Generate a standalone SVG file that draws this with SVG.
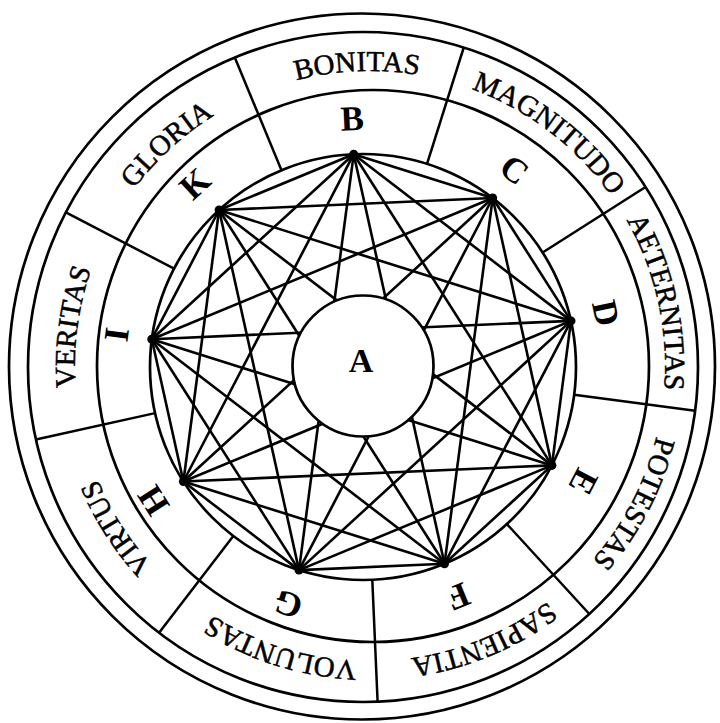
<svg xmlns="http://www.w3.org/2000/svg" xmlns:xlink="http://www.w3.org/1999/xlink" width="720" height="723" viewBox="0 0 720 723">
<style>
.ring{fill:none;stroke:#000;stroke-width:2.7}
.div{stroke:#000;stroke-width:2.5;fill:none}
.con{stroke:#000;stroke-width:2.6;fill:none}
.lab{font-family:"Liberation Serif","Times New Roman",serif;font-size:29px;fill:#000;stroke:#000;stroke-width:0.5}
.let{font-family:"Liberation Serif","Times New Roman",serif;font-size:35px;font-weight:bold;fill:#000}
.dot{fill:#000}
</style>
<defs>
<path id="pB" d="M170.70 148.50 A295 295 0 0 1 549.58 131.96"/>
<path id="pC" d="M357.13 71.28 A295 295 0 0 1 658.01 302.15"/>
<path id="pD" d="M549.58 131.96 A295 295 0 0 1 631.67 502.22"/>
<path id="pE" d="M658.01 302.15 A295 295 0 0 1 482.89 638.54"/>
<path id="pF" d="M631.67 502.22 A295 295 0 0 1 281.29 647.35"/>
<path id="pG" d="M482.89 638.54 A295 295 0 0 1 121.20 524.50"/>
<path id="pH" d="M281.29 647.35 A295 295 0 0 1 77.53 327.49"/>
<path id="pI" d="M121.20 524.50 A295 295 0 0 1 170.70 148.50"/>
<path id="pK" d="M77.53 327.49 A295 295 0 0 1 357.13 71.28"/>
</defs>
<rect width="720" height="723" fill="#fff"/>
<g id="rings">
<circle class="ring" cx="362" cy="366.5" r="353"/>
<circle class="ring" cx="363" cy="367" r="335"/>
<circle class="ring" cx="373" cy="366" r="276"/>
<circle class="ring" cx="363" cy="367" r="213"/>
</g>
<g id="dividers">
<line class="div" x1="427.05" y1="163.86" x2="463.74" y2="47.50"/>
<line class="div" x1="542.64" y1="252.56" x2="645.54" y2="187.00"/>
<line class="div" x1="574.18" y1="394.80" x2="695.13" y2="410.73"/>
<line class="div" x1="506.90" y1="524.04" x2="589.32" y2="613.99"/>
<line class="div" x1="372.29" y1="579.80" x2="377.61" y2="701.68"/>
<line class="div" x1="233.33" y1="535.98" x2="159.07" y2="632.77"/>
<line class="div" x1="155.05" y1="413.10" x2="35.94" y2="439.51"/>
<line class="div" x1="174.07" y1="268.65" x2="65.85" y2="212.31"/>
<line class="div" x1="281.49" y1="170.21" x2="234.80" y2="57.50"/>
</g>
<g id="connectors">
<line class="con" x1="353.7" y1="154.2" x2="492.7" y2="198.0"/>
<line class="con" x1="353.7" y1="154.2" x2="571.0" y2="320.9"/>
<line class="con" x1="353.7" y1="154.2" x2="551.9" y2="465.4"/>
<line class="con" x1="353.7" y1="154.2" x2="444.5" y2="563.8"/>
<line class="con" x1="353.7" y1="154.2" x2="299.0" y2="570.1"/>
<line class="con" x1="353.7" y1="154.2" x2="183.4" y2="481.5"/>
<line class="con" x1="353.7" y1="154.2" x2="151.8" y2="339.2"/>
<line class="con" x1="353.7" y1="154.2" x2="219.1" y2="210.0"/>
<line class="con" x1="492.7" y1="198.0" x2="571.0" y2="320.9"/>
<line class="con" x1="492.7" y1="198.0" x2="551.9" y2="465.4"/>
<line class="con" x1="492.7" y1="198.0" x2="444.5" y2="563.8"/>
<line class="con" x1="492.7" y1="198.0" x2="299.0" y2="570.1"/>
<line class="con" x1="492.7" y1="198.0" x2="183.4" y2="481.5"/>
<line class="con" x1="492.7" y1="198.0" x2="151.8" y2="339.2"/>
<line class="con" x1="492.7" y1="198.0" x2="219.1" y2="210.0"/>
<line class="con" x1="571.0" y1="320.9" x2="551.9" y2="465.4"/>
<line class="con" x1="571.0" y1="320.9" x2="444.5" y2="563.8"/>
<line class="con" x1="571.0" y1="320.9" x2="299.0" y2="570.1"/>
<line class="con" x1="571.0" y1="320.9" x2="183.4" y2="481.5"/>
<line class="con" x1="571.0" y1="320.9" x2="151.8" y2="339.2"/>
<line class="con" x1="571.0" y1="320.9" x2="219.1" y2="210.0"/>
<line class="con" x1="551.9" y1="465.4" x2="444.5" y2="563.8"/>
<line class="con" x1="551.9" y1="465.4" x2="299.0" y2="570.1"/>
<line class="con" x1="551.9" y1="465.4" x2="183.4" y2="481.5"/>
<line class="con" x1="551.9" y1="465.4" x2="151.8" y2="339.2"/>
<line class="con" x1="551.9" y1="465.4" x2="219.1" y2="210.0"/>
<line class="con" x1="444.5" y1="563.8" x2="299.0" y2="570.1"/>
<line class="con" x1="444.5" y1="563.8" x2="183.4" y2="481.5"/>
<line class="con" x1="444.5" y1="563.8" x2="151.8" y2="339.2"/>
<line class="con" x1="444.5" y1="563.8" x2="219.1" y2="210.0"/>
<line class="con" x1="299.0" y1="570.1" x2="183.4" y2="481.5"/>
<line class="con" x1="299.0" y1="570.1" x2="151.8" y2="339.2"/>
<line class="con" x1="299.0" y1="570.1" x2="219.1" y2="210.0"/>
<line class="con" x1="183.4" y1="481.5" x2="151.8" y2="339.2"/>
<line class="con" x1="183.4" y1="481.5" x2="219.1" y2="210.0"/>
<line class="con" x1="151.8" y1="339.2" x2="219.1" y2="210.0"/>
</g>
<g id="nodeA">
<circle cx="363" cy="366" r="70.5" fill="#fff" stroke="#000" stroke-width="2.7"/>
<text class="let" x="361" y="372" text-anchor="middle" style="font-size:34px">A</text>
</g>
<g id="nodeB"><circle class="dot" cx="353.7" cy="154.2" r="4.5"/><text class="let" x="363" y="130" text-anchor="middle" transform="rotate(-2.5 363 367)">B</text></g>
<g id="nodeC"><circle class="dot" cx="492.7" cy="198.0" r="4.5"/><text class="let" x="363" y="130" text-anchor="middle" transform="rotate(37.5 363 367)">C</text></g>
<g id="nodeD"><circle class="dot" cx="571.0" cy="320.9" r="4.5"/><text class="let" x="363" y="130" text-anchor="middle" transform="rotate(77.5 363 367)">D</text></g>
<g id="nodeE"><circle class="dot" cx="551.9" cy="465.4" r="4.5"/><text class="let" x="363" y="130" text-anchor="middle" transform="rotate(117.5 363 367)">E</text></g>
<g id="nodeF"><circle class="dot" cx="444.5" cy="563.8" r="4.5"/><text class="let" x="363" y="130" text-anchor="middle" transform="rotate(157.5 363 367)">F</text></g>
<g id="nodeG"><circle class="dot" cx="299.0" cy="570.1" r="4.5"/><text class="let" x="363" y="130" text-anchor="middle" transform="rotate(197.5 363 367)">G</text></g>
<g id="nodeH"><circle class="dot" cx="183.4" cy="481.5" r="4.5"/><text class="let" x="363" y="130" text-anchor="middle" transform="rotate(237.5 363 367)">H</text></g>
<g id="nodeI"><circle class="dot" cx="151.8" cy="339.2" r="4.5"/><text class="let" x="363" y="130" text-anchor="middle" transform="rotate(277.5 363 367)">I</text></g>
<g id="nodeK"><circle class="dot" cx="219.1" cy="210.0" r="4.5"/><text class="let" x="363" y="130" text-anchor="middle" transform="rotate(317.5 363 367)">K</text></g>
<g id="labels">
<text class="lab"><textPath xlink:href="#pB" href="#pB" startOffset="50%" text-anchor="middle">BONITAS</textPath></text>
<text class="lab"><textPath xlink:href="#pC" href="#pC" startOffset="50%" text-anchor="middle">MAGNITUDO</textPath></text>
<text class="lab"><textPath xlink:href="#pD" href="#pD" startOffset="50%" text-anchor="middle">AETERNITAS</textPath></text>
<text class="lab"><textPath xlink:href="#pE" href="#pE" startOffset="50%" text-anchor="middle">POTESTAS</textPath></text>
<text class="lab"><textPath xlink:href="#pF" href="#pF" startOffset="50%" text-anchor="middle">SAPIENTIA</textPath></text>
<text class="lab"><textPath xlink:href="#pG" href="#pG" startOffset="50%" text-anchor="middle">VOLUNTAS</textPath></text>
<text class="lab"><textPath xlink:href="#pH" href="#pH" startOffset="50%" text-anchor="middle">VIRTUS</textPath></text>
<text class="lab"><textPath xlink:href="#pI" href="#pI" startOffset="50%" text-anchor="middle">VERITAS</textPath></text>
<text class="lab"><textPath xlink:href="#pK" href="#pK" startOffset="50%" text-anchor="middle">GLORIA</textPath></text>
</g>
</svg>
